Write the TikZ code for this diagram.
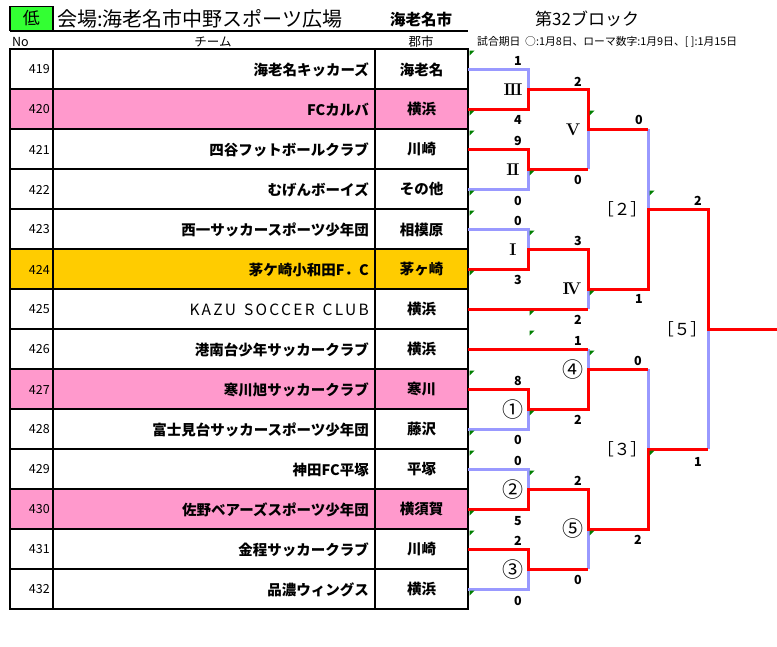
\documentclass[tikz,border=0pt]{standalone}
\usepackage{fontspec}
\newfontfamily\jp{Noto Sans CJK JP}
\definecolor{lblue}{RGB}{153,153,255}
\definecolor{pinkrow}{RGB}{255,153,204}
\definecolor{orangerow}{RGB}{255,204,0}
\definecolor{lowgreen}{RGB}{51,255,51}
\definecolor{trigreen}{RGB}{0,128,0}
\newcommand{\kazuname}{\mdseries\fontsize{15.5}{15.5}\selectfont\addfontfeature{LetterSpace=15}KAZU\hspace{8pt}SOCCER\hspace{8pt}CLUB}
\begin{document}
\begin{tikzpicture}[x=1pt,y=-1pt,
  tbl/.style={line width=1.2pt, line cap=rect},
  winline/.style={draw=red, line width=3pt, line join=miter},
  loseline/.style={draw=lblue, line width=3pt, line join=miter},
  sc/.style={font=\jp\bfseries\fontsize{12.5}{12.5}\selectfont, inner sep=0pt},
  rom/.style={font=\bfseries\fontsize{17}{17}\selectfont, inner sep=0pt},
  circ/.style={font=\jp\fontsize{21}{21}\selectfont, inner sep=0pt},
  brk/.style={font=\jp\fontsize{16.5}{16.5}\selectfont, inner sep=0pt},
  noS/.style={font=\jp\fontsize{12.5}{12.5}\selectfont, anchor=east, inner sep=0pt},
  teamS/.style={font=\jp\bfseries\fontsize{14.5}{14.5}\selectfont, anchor=east, inner sep=0pt},
  cityS/.style={font=\jp\bfseries\fontsize{14.5}{14.5}\selectfont, inner sep=0pt},
  hdr/.style={font=\jp\fontsize{12.5}{12.5}\selectfont, inner sep=0pt},
  tri/.style={fill=trigreen}
]
\useasboundingbox (0,0) rectangle (777,646);
\fill[white] (0,0) rectangle (777,646);

% header
\node[draw, line width=1.2pt, fill=lowgreen, minimum width=43pt, minimum height=24pt, inner sep=0pt,
  font=\jp\fontsize{17}{17}\selectfont] (low) at (31.5,18.5) {低};
\node[anchor=west, inner sep=0pt, font=\jp\fontsize{20}{20}\selectfont] (title) at (57,18.5) {会場:海老名市中野スポーツ広場};
\node[anchor=west, inner sep=0pt, font=\jp\bfseries\fontsize{15.5}{15.5}\selectfont] (city) at (390,20) {海老名市};
\node[anchor=west, inner sep=0pt, font=\jp\fontsize{17}{17}\selectfont] (block) at (535,19) {第32ブロック};
\draw[line width=1.5pt] (10,31) -- (468,31);
\node[hdr, anchor=west] (hno) at (12,41.5) {No};
\node[hdr] (hteam) at (213,41.5) {チーム};
\node[hdr] (hcity) at (421,41.5) {郡市};
\node[anchor=west, inner sep=0pt, font=\jp\fontsize{10.8}{10.8}\selectfont] (dates) at (477,42) {試合期日\ \ ○:1月8日、ローマ数字:1月9日、[\ ]:1月15日};

% table rows
\foreach \k/\no/\team/\cty/\fc in {
  0/419/海老名キッカーズ/海老名/white,
  1/420/FCカルバ/横浜/pinkrow,
  2/421/四谷フットボールクラブ/川崎/white,
  3/422/むげんボーイズ/その他/white,
  4/423/西一サッカースポーツ少年団/相模原/white,
  5/424/茅ケ崎小和田F．C/茅ヶ崎/orangerow,
  6/425/\kazuname/横浜/white,
  7/426/港南台少年サッカークラブ/横浜/white,
  8/427/寒川旭サッカークラブ/寒川/pinkrow,
  9/428/富士見台サッカースポーツ少年団/藤沢/white,
  10/429/神田FC平塚/平塚/white,
  11/430/佐野ベアーズスポーツ少年団/横須賀/pinkrow,
  12/431/金程サッカークラブ/川崎/white,
  13/432/品濃ウィングス/横浜/white}{
  \fill[\fc] (10,{49+40*\k}) rectangle (468,{89+40*\k});
  \node[noS] (no\k) at (50,{69.5+40*\k}) {\no};
  \node[teamS] (team\k) at (369,{69.5+40*\k}) {\team};
  \node[cityS] (cty\k) at (421.5,{69.5+40*\k}) {\cty};
}
\foreach \k in {0,...,14}{
  \draw[tbl] (10,{49+40*\k}) -- (468,{49+40*\k});
}
\foreach \xx in {10,53,375,468}{
  \draw[tbl] (\xx,49) -- (\xx,609);
}

% bracket: losing segments
\draw[loseline] (468,69) -- (528,69) -- (528,89);
\draw[loseline] (468,189) -- (528,189) -- (528,169);
\draw[loseline] (468,229) -- (528,229) -- (528,249);
\draw[loseline] (468,429) -- (528,429) -- (528,409);
\draw[loseline] (468,469) -- (528,469) -- (528,489);
\draw[loseline] (468,589) -- (528,589) -- (528,569);
\draw[loseline] (588,169) -- (588,129);
\draw[loseline] (588,309) -- (588,289);
\draw[loseline] (588,349) -- (588,369);
\draw[loseline] (588,569) -- (588,529);
\draw[loseline] (648,129) -- (648,209);
\draw[loseline] (648,369) -- (648,449);
\draw[loseline] (708,449) -- (708,329);

% bracket: winning segments
\draw[winline] (468,109) -- (528,109) -- (528,89) -- (588,89) -- (588,129) -- (648,129);
\draw[winline] (468,149) -- (528,149) -- (528,169) -- (588,169);
\draw[winline] (468,269) -- (528,269) -- (528,249) -- (588,249) -- (588,289) -- (648,289) -- (648,209) -- (708,209) -- (708,329) -- (777,329);
\draw[winline] (468,309) -- (588,309);
\draw[winline] (468,349) -- (588,349);
\draw[winline] (468,389) -- (528,389) -- (528,409) -- (588,409) -- (588,369) -- (648,369);
\draw[winline] (468,509) -- (528,509) -- (528,489) -- (588,489) -- (588,529) -- (648,529) -- (648,449) -- (708,449);
\draw[winline] (468,549) -- (528,549) -- (528,569) -- (588,569);

% green corner marks
\foreach \xx/\yy in {468/49,468/109,468/129,528/169,588/109,468/189,468/209,648/189,
  528/229,468/269,588/289,528/309,528/329,588/349,468/369,528/409,468/429,468/449,
  528/469,648/449,468/509,468/529,588/529,468/589}{
  \fill[tri] (\xx+1.5,\yy+1.5) -- ++(5,0) -- ++(-5,5) -- cycle;
}

% scores
\foreach \n/\xx/\yy/\t in {a/518/61/1,b/518/120/4,c/518/141/9,d/518/201/0,e/518/221/0,f/518/280/3,
  g/518/381/8,h/518/440/0,i/518/461/0,j/518/521/5,k/518/541/2,l/518/601/0,
  m/578/82/2,n/578/180/0,o/578/241/3,p/578/320/2,q/578/341/1,r/578/420/2,s/578/481/2,t/578/580/0,
  u/639/120/0,v/639/299/1,w/638/361/0,x/638/540/2,y/698/201/2,z/698/462/1}{
  \node[sc] (sc\n) at (\xx,\yy) {\t};
}

% round labels
\node[rom] (r3) at (513,90) {I\kern-1.2pt I\kern-1.2pt I};
\node[rom] (r2) at (513,170) {I\kern-1.2pt I};
\node[rom] (r1) at (513,250) {I};
\node[rom] (r5) at (573,130) {V};
\node[rom] (r4) at (572,289) {I\kern-3pt V};
\node[circ] (c1) at (513,410) {①};
\node[circ] (c2) at (513,490) {②};
\node[circ] (c3) at (513,570) {③};
\node[circ] (c4) at (573,370) {④};
\node[circ] (c5) at (573,529) {⑤};
\node[brk] (b2) at (622,209) {［２］};
\node[brk] (b3) at (622,449) {［３］};
\node[brk] (b5) at (682,329) {［５］};
\end{tikzpicture}
\end{document}
